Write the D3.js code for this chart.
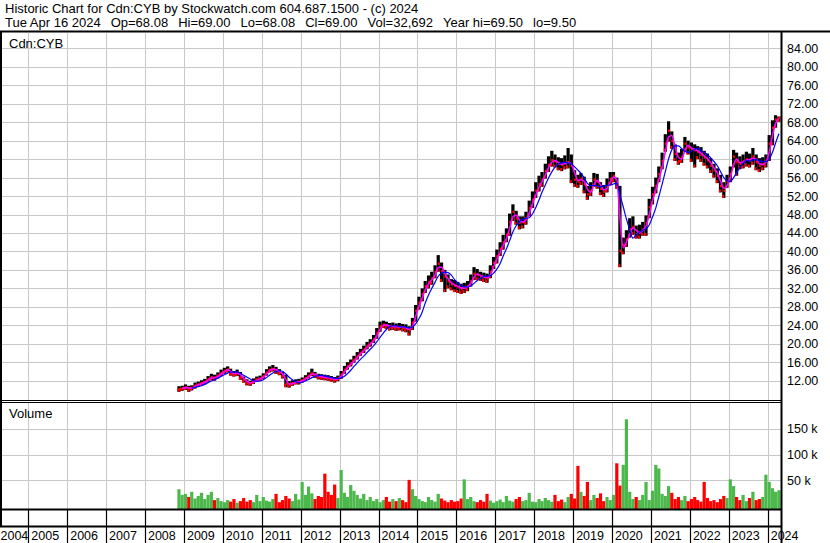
<!DOCTYPE html>
<html><head><meta charset="utf-8">
<script src="https://cdn.jsdelivr.net/npm/d3@7"></script>
<style>
body{margin:0;background:#fff}
svg{display:block}
text{font-family:"Liberation Sans",Arial,sans-serif;fill:#000}
</style>
</head><body><svg id="c" width="830" height="543"></svg>
<script>
// ---------- DATA (monthly, Nov 2008 .. Apr 2024) ----------
const firstMonth = "2008-11";
const closes = [
 10.2,10.4,
 10.6,10.3,10.5,11.0,11.2,11.5,11.8,12.4,12.8,12.6,13.2,13.7,
 14.2,14.5,13.6,13.4,13.8,12.8,12.2,11.6,11.4,11.9,12.3,12.5,
 13.0,13.8,14.4,14.6,14.2,13.8,13.2,11.4,11.2,11.5,11.7,11.8,
 12.1,12.6,13.1,13.7,13.2,12.9,12.8,12.7,12.6,12.4,12.2,12.5,
 13.4,14.4,15.2,15.8,16.6,17.4,18.1,18.8,19.6,20.2,21.0,22.4,
 23.8,24.2,24.0,23.7,23.8,23.6,23.7,23.5,23.4,22.9,24.6,27.2,
 29.0,30.8,32.5,33.4,34.2,35.6,37.4,35.8,34.6,33.6,32.9,32.6,
 32.3,31.9,32.2,32.5,33.6,35.2,35.0,34.6,34.4,34.2,35.6,37.6,
 39.0,40.6,42.0,43.6,46.4,48.6,47.2,46.3,46.4,47.2,49.4,51.2,
 53.2,54.6,55.6,57.4,58.8,59.8,59.6,59.0,58.8,59.2,59.4,58.6,
 55.6,55.2,55.8,54.6,52.4,53.2,55.6,55.2,53.6,53.0,54.2,55.8,
 56.4,54.6,40.2,41.4,42.6,44.8,45.4,43.8,44.2,44.8,46.2,49.6,
 52.4,54.2,56.8,59.6,63.4,66.2,64.0,61.2,59.6,60.4,63.4,62.6,
 62.2,62.0,61.6,61.0,60.4,59.8,58.6,57.6,56.4,54.2,53.2,55.2,
 56.8,60.6,59.4,59.0,59.6,60.0,59.8,60.6,59.4,58.6,59.0,59.6,
 63.4,66.8,68.6,69.0
];
const highs = [
 10.8,10.9,
 11.2,10.9,11.0,11.6,11.8,12.1,12.4,13.0,13.5,13.3,13.8,14.4,
 14.8,15.1,14.6,14.1,14.4,13.9,12.9,12.3,12.0,12.5,12.9,13.1,
 13.6,14.5,15.1,15.4,15.0,14.5,13.9,13.3,11.9,12.1,12.3,12.4,
 12.7,13.2,13.8,14.6,13.9,13.5,13.4,13.3,13.2,13.0,12.8,13.1,
 14.1,15.2,16.0,16.6,17.4,18.2,18.9,19.6,20.4,21.0,21.9,23.4,
 24.8,25.0,24.8,24.5,24.6,24.4,24.5,24.3,24.2,23.8,25.6,28.4,
 30.2,32.0,33.6,34.8,35.6,37.0,39.2,37.6,36.0,35.0,34.0,33.8,
 33.4,33.0,33.2,33.6,35.0,36.6,36.2,35.6,35.4,35.2,37.0,38.8,
 40.4,42.0,43.6,45.0,48.2,50.2,48.8,47.6,47.6,48.6,51.0,53.0,
 55.0,56.4,57.2,59.0,60.6,61.8,61.0,60.4,60.2,60.8,62.4,61.0,
 57.6,56.6,57.0,56.2,54.2,55.0,57.0,56.8,55.0,54.4,55.8,57.2,
 57.2,56.0,54.2,43.0,44.6,47.2,47.6,45.6,45.8,46.4,47.8,51.4,
 54.0,56.0,58.4,61.4,65.4,68.2,66.0,63.2,61.4,62.2,64.8,64.0,
 63.6,63.2,62.8,62.6,61.8,61.2,60.2,59.0,58.0,56.6,55.0,56.6,
 58.4,62.0,61.4,60.6,61.0,61.6,61.2,62.4,61.0,60.2,60.4,61.0,
 65.2,68.4,69.5,69.2
];
const lows = [
 9.6,9.8,
 10.0,9.6,9.9,10.3,10.7,11.0,11.2,11.7,12.1,12.0,12.5,13.0,
 13.5,13.8,13.1,12.9,13.0,12.2,11.6,11.0,10.9,11.3,11.8,12.0,
 12.4,13.1,13.8,14.0,13.5,13.2,12.5,10.6,10.5,10.9,11.2,11.2,
 11.6,12.0,12.5,13.0,12.6,12.3,12.2,12.1,12.0,11.8,11.6,11.9,
 12.4,13.5,14.4,15.1,15.9,16.6,17.4,18.0,18.8,19.4,20.2,21.1,
 22.6,23.4,23.2,22.9,23.0,22.8,22.9,22.7,22.5,21.8,23.0,24.8,
 27.4,29.2,31.0,32.0,32.8,34.2,35.6,33.4,31.2,32.0,31.6,31.2,
 31.0,30.8,31.0,31.4,32.4,33.8,33.8,33.6,33.4,33.2,34.2,36.2,
 37.4,39.0,40.4,42.0,43.4,46.6,45.8,44.8,45.0,45.8,47.6,49.4,
 51.6,53.0,54.0,55.8,57.2,58.4,58.2,57.6,57.4,57.8,58.0,54.8,
 54.0,53.8,54.4,52.6,51.2,52.0,54.0,53.6,52.2,51.8,52.8,54.4,
 55.0,53.6,36.6,39.4,41.0,43.0,43.6,42.8,42.8,43.4,43.4,47.2,
 50.2,52.6,55.0,57.8,61.6,63.8,62.2,59.6,58.8,59.2,61.6,61.0,
 59.4,58.2,60.0,59.4,58.6,58.0,57.0,56.0,54.8,52.8,51.6,53.8,
 55.0,58.2,56.4,57.8,58.0,58.4,58.2,58.8,57.6,57.2,57.6,58.2,
 59.6,63.0,66.8,68.1
];
const volumesK = [
 33,22,
 24,18,28,15,20,26,14,22,28,12,16,10,
 8,12,9,14,7,10,16,9,12,8,22,10,
 18,11,9,14,24,8,12,20,15,10,24,13,
 47,22,38,25,14,20,18,63,28,22,42,16,
 70,26,18,41,30,22,15,24,12,18,10,14,
 8,12,18,9,14,10,16,12,8,51,33,20,
 14,10,8,18,12,9,24,15,11,8,12,9,
 10,15,52,14,18,10,8,12,9,24,11,7,
 10,13,8,20,11,9,14,18,10,12,26,9,
 8,14,10,16,12,9,22,10,13,8,18,24,
 15,78,28,20,47,12,22,16,25,10,18,12,
 22,83,40,80,168,28,14,18,12,22,47,12,
 30,80,73,24,20,39,26,14,18,12,20,10,
 14,18,12,9,47,16,10,12,8,14,20,16,
 52,39,18,12,22,10,16,28,12,14,18,61,
 47,35,28,31
];
const priceTicks = [12,16,20,24,28,32,36,40,44,48,52,56,60,64,68,72,76,80,84];
const volumeTicks = [50,100,150];
const yearLabels = d3.range(2004, 2025);
const header1 = "Historic Chart for Cdn:CYB by Stockwatch.com 604.687.1500 - (c) 2024";
const header2Parts = ["Tue Apr 16 2024","Op=68.08","Hi=69.00","Lo=68.08","Cl=69.00","Vol=32,692","Year hi=69.50","lo=9.50"];
const symbolLabel = "Cdn:CYB";
const volumeLabel = "Volume";
const shortMA = 2, longMA = 5;

// ---------- LAYOUT ----------
const svg = d3.select("#c");
const axisX = 781.5;
const mainTop = 33, mainBottom = 400, volTop = 403, volBottom = 509, tickRowBottom = 526.5;

const x = d3.scaleTime().domain([new Date(2005,0,1), new Date(2024,0,1)]).range([28.3, 767.7]);
const y = d3.scaleLinear().domain([12,84]).range([380.7, 48.3]);
const vy = d3.scaleLinear().domain([0,150]).range([506.3, 428.6]);

const parse = d3.timeParse("%Y-%m");
const m0 = parse(firstMonth);
const data = closes.map((c,i)=>{
  const d = d3.timeDay.offset(d3.timeMonth.offset(m0,i),14);
  return {date:d, close:c, high:highs[i], low:lows[i], vol:volumesK[i]};
});
function ma(n){ return data.map((d,i)=> i < n-1 ? null : d3.mean(data.slice(i-n+1,i+1), e=>e.close)); }
const maS = ma(shortMA), maL = ma(longMA);

const yearBounds = yearLabels.map(yv=>new Date(yv,0,1));

const defs = svg.append("defs");
defs.append("clipPath").attr("id","clipMain").append("rect")
  .attr("x",2).attr("y",mainTop).attr("width",axisX-2).attr("height",mainBottom-mainTop);
defs.append("clipPath").attr("id","clipVol").append("rect")
  .attr("x",2).attr("y",volTop).attr("width",axisX-2).attr("height",volBottom-volTop);

// gridlines
const grid = svg.append("g").attr("stroke","#c8c8c8").attr("stroke-width",1);
yearBounds.forEach(d=>{
  const px = Math.round(x(d))+0.5;
  if(px>2 && px<axisX){
    grid.append("line").attr("x1",px).attr("x2",px).attr("y1",mainTop).attr("y2",mainBottom);
    grid.append("line").attr("x1",px).attr("x2",px).attr("y1",volTop).attr("y2",volBottom);
  }
});
priceTicks.forEach(t=>{
  const py = Math.round(y(t))+0.5;
  grid.append("line").attr("x1",2).attr("x2",axisX).attr("y1",py).attr("y2",py);
});
volumeTicks.forEach(t=>{
  const py = Math.round(vy(t))+0.5;
  grid.append("line").attr("x1",2).attr("x2",axisX).attr("y1",py).attr("y2",py);
});

// price bars
const gMain = svg.append("g").attr("clip-path","url(#clipMain)");
gMain.selectAll("rect.bar").data(data).join("rect").attr("class","bar")
  .attr("x",d=>x(d.date)-1.6).attr("width",3.2)
  .attr("y",d=>y(d.high)).attr("height",d=>y(d.low)-y(d.high))
  .attr("fill","#000");
gMain.selectAll("rect.cl").data(data).join("rect").attr("class","cl")
  .attr("x",d=>x(d.date)-0.5).attr("width",2)
  .attr("y",d=>y(d.close)-1).attr("height",2.5)
  .attr("fill","#ff0000");
gMain.selectAll("rect.lo").data(data).join("rect").attr("class","lo")
  .attr("x",d=>x(d.date)-1.6).attr("width",2)
  .attr("y",d=>y(d.low)-3).attr("height",3)
  .attr("fill","#ff0000");

const lineS = d3.line().defined((d,i)=>maS[i]!==null).x(d=>x(d.date)).y((d,i)=>y(maS[i])).curve(d3.curveMonotoneX);
const lineL = d3.line().defined((d,i)=>maL[i]!==null).x(d=>x(d.date)).y((d,i)=>y(maL[i])).curve(d3.curveMonotoneX);
gMain.append("path").datum(data).attr("d",lineS).attr("fill","none").attr("stroke","#ff00ff").attr("stroke-width",1.6);
gMain.append("path").datum(data).attr("d",lineL).attr("fill","none").attr("stroke","#0000ff").attr("stroke-width",1.2);

// volume bars
const gVol = svg.append("g").attr("clip-path","url(#clipVol)");
gVol.selectAll("rect").data(data).join("rect")
  .attr("x",d=>x(d.date)-1.6).attr("width",3.2)
  .attr("y",d=>vy(d.vol)).attr("height",d=>volBottom-vy(d.vol))
  .attr("fill",(d,i)=>{
    if(i===0) return "#4cb84c";
    const p = data[i-1].close;
    return d.close>p ? "#4cb84c" : d.close<p ? "#ff0000" : "#a0a0a0";
  });

// frame lines
const frame = svg.append("g").attr("stroke","#000");
frame.append("line").attr("x1",0).attr("x2",830).attr("y1",31.5).attr("y2",31.5).attr("stroke-width",2);
frame.append("line").attr("x1",1).attr("x2",1).attr("y1",31).attr("y2",527).attr("stroke-width",2);
frame.append("line").attr("x1",axisX).attr("x2",axisX).attr("y1",31).attr("y2",543).attr("stroke-width",2);
frame.append("line").attr("x1",0).attr("x2",axisX).attr("y1",400.5).attr("y2",400.5).attr("stroke-width",1);
frame.append("line").attr("x1",0).attr("x2",axisX).attr("y1",402.5).attr("y2",402.5).attr("stroke-width",1);
frame.append("line").attr("x1",0).attr("x2",axisX).attr("y1",509.5).attr("y2",509.5).attr("stroke-width",2);
frame.append("line").attr("x1",0).attr("x2",axisX).attr("y1",tickRowBottom).attr("y2",tickRowBottom).attr("stroke-width",2);
yearBounds.forEach(d=>{
  const px = Math.round(x(d))+0.5;
  if(px>2 && px<axisX){
    frame.append("line").attr("x1",px).attr("x2",px).attr("y1",510).attr("y2",543).attr("stroke-width",1.2);
  }
});

// year labels
svg.append("g").selectAll("text").data(yearLabels).join("text")
  .attr("x",d=>Math.max(0.5, x(new Date(d,0,1))+3)).attr("y",540)
  .attr("font-size","12.5px").text(d=>d);

// right axis labels
svg.append("g").selectAll("text").data(priceTicks).join("text")
  .attr("x",787).attr("y",d=>y(d)).attr("dy","0.36em")
  .attr("font-size","12.5px").text(d=>d3.format(".2f")(d));
svg.append("g").selectAll("text").data(volumeTicks).join("text")
  .attr("x",787).attr("y",d=>vy(d)).attr("dy","0.36em")
  .attr("font-size","12.5px").text(d=>d+" k");

// header + labels
svg.append("text").attr("x",5).attr("y",13).attr("font-size","13px").text(header1);
const h2 = svg.append("text").attr("x",5).attr("y",27).attr("font-size","13px");
header2Parts.forEach((p,i)=>{
  h2.append("tspan").attr("dx", i===0 ? 0 : 10).text(p);
});
svg.append("text").attr("x",9).attr("y",48).attr("font-size","13px").text(symbolLabel);
svg.append("text").attr("x",9).attr("y",418).attr("font-size","13px").text(volumeLabel);
</script></body></html>
